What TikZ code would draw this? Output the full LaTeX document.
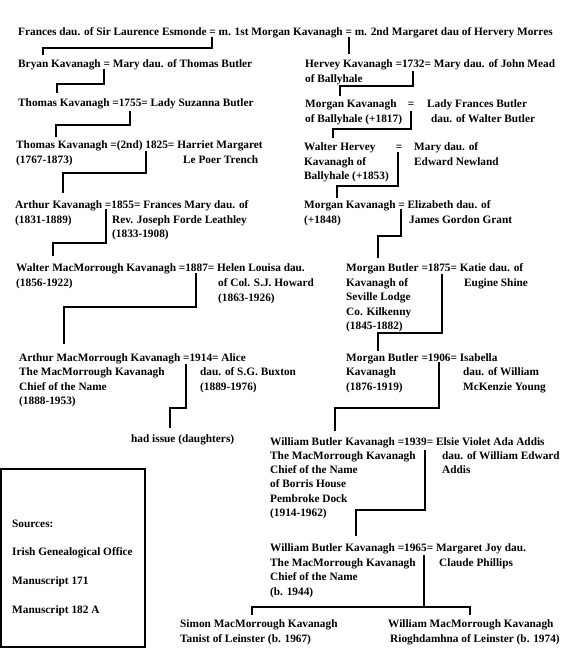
\documentclass[tikz,border=0pt]{standalone}
\usepackage{fontspec}
\setmainfont{Liberation Serif}
\newcommand\ptxt[4]{\node[txt] (#1) at (#2,#3+4) {#4};}
\begin{document}
\begin{tikzpicture}[x=1pt,y=-1pt,
  txt/.style={font=\fontsize{11.3}{14}\selectfont\bfseries,inner sep=0pt,anchor=base west},
  conn/.style={line width=2pt,line cap=rect}]
\useasboundingbox (0,0) rectangle (576,648);
% row 1
\ptxt{r1}{18}{31}{Frances dau. of Sir Laurence Esmonde = m. 1st Morgan Kavanagh = m. 2nd Margaret dau of Hervery Morres}
% row 2
\ptxt{bryan}{18}{63}{Bryan Kavanagh = Mary dau. of Thomas Butler}
\ptxt{hervey}{305}{63}{Hervey Kavanagh =1732= Mary dau. of John Mead}
\ptxt{hervey2}{305}{78}{of Ballyhale}
% row 3
\ptxt{thomas1}{18}{102}{Thomas Kavanagh =1755= Lady Suzanna Butler}
\ptxt{morgan1}{305}{103}{Morgan Kavanagh}
\node[txt,anchor=base] (morgan1eq) at (411,107) {=};
\ptxt{frances}{427}{103}{Lady Frances Butler}
\ptxt{morgan1b}{305}{118}{of Ballyhale (+1817)}
\ptxt{frances2}{431}{118}{dau. of Walter Butler}
% row 4
\ptxt{thomas2}{16}{144}{Thomas Kavanagh =(2nd) 1825= Harriet Margaret}
\ptxt{thomas2b}{16}{159}{(1767-1873)}
\ptxt{harriet2}{183}{159}{Le Poer Trench}
\ptxt{walterh}{304}{146}{Walter Hervey}
\node[txt,anchor=base] (walterheq) at (399,150) {=};
\ptxt{maryn}{414}{146}{Mary dau. of}
\ptxt{walterh2}{304}{161}{Kavanagh of}
\ptxt{maryn2}{414}{161}{Edward Newland}
\ptxt{walterh3}{304}{175}{Ballyhale (+1853)}
% row 5
\ptxt{arthur1}{15}{204}{Arthur Kavanagh =1855= Frances Mary dau. of}
\ptxt{arthur1b}{15}{219}{(1831-1889)}
\ptxt{fmary2}{112}{219}{Rev. Joseph Forde Leathley}
\ptxt{fmary3}{112}{233}{(1833-1908)}
\ptxt{morgan2}{304}{204}{Morgan Kavanagh = Elizabeth dau. of}
\ptxt{morgan2b}{304}{219}{(+1848)}
\ptxt{eliz2}{409}{219}{James Gordon Grant}
% row 6
\ptxt{walterm}{16}{267}{Walter MacMorrough Kavanagh =1887= Helen Louisa dau.}
\ptxt{walterm2}{16}{282}{(1856-1922)}
\ptxt{helen2}{218}{282}{of Col. S.J. Howard}
\ptxt{helen3}{218}{297}{(1863-1926)}
\ptxt{mbutler1}{346}{267}{Morgan Butler =1875= Katie dau. of}
\ptxt{mbutler1b}{346}{282}{Kavanagh of}
\ptxt{katie2}{464}{282}{Eugine Shine}
\ptxt{mbutler1c}{346}{296}{Seville Lodge}
\ptxt{mbutler1d}{346}{311}{Co. Kilkenny}
\ptxt{mbutler1e}{346}{325}{(1845-1882)}
% row 7
\ptxt{arthurm}{19}{357}{Arthur MacMorrough Kavanagh =1914= Alice}
\ptxt{arthurm2}{19}{371}{The MacMorrough Kavanagh}
\ptxt{alice2}{200}{371}{dau. of S.G. Buxton}
\ptxt{arthurm3}{19}{386}{Chief of the Name}
\ptxt{alice3}{200}{386}{(1889-1976)}
\ptxt{arthurm4}{19}{400}{(1888-1953)}
\ptxt{mbutler2}{346}{357}{Morgan Butler =1906= Isabella}
\ptxt{mbutler2b}{346}{371}{Kavanagh}
\ptxt{isab2}{463}{371}{dau. of William}
\ptxt{mbutler2c}{346}{386}{(1876-1919)}
\ptxt{isab3}{463}{386}{McKenzie Young}
% had issue
\ptxt{issue}{131}{438}{had issue (daughters)}
% row 8
\ptxt{wb1}{270}{441}{William Butler Kavanagh =1939= Elsie Violet Ada Addis}
\ptxt{wb1b}{270}{455}{The MacMorrough Kavanagh}
\ptxt{elsie2}{442}{455}{dau. of William Edward}
\ptxt{wb1c}{270}{469}{Chief of the Name}
\ptxt{elsie3}{442}{469}{Addis}
\ptxt{wb1d}{270}{483}{of Borris House}
\ptxt{wb1e}{270}{498}{Pembroke Dock}
\ptxt{wb1f}{270}{512}{(1914-1962)}
% row 9
\ptxt{wb2}{270}{547}{William Butler Kavanagh =1965= Margaret Joy dau.}
\ptxt{wb2b}{270}{562}{The MacMorrough Kavanagh}
\ptxt{marg2}{439}{562}{Claude Phillips}
\ptxt{wb2c}{270}{576}{Chief of the Name}
\ptxt{wb2d}{270}{591}{(b. 1944)}
% row 10
\ptxt{simon}{180}{623}{Simon MacMorrough Kavanagh}
\ptxt{simon2}{180}{638}{Tanist of Leinster (b. 1967)}
\ptxt{wmm}{388}{623}{William MacMorrough Kavanagh}
\ptxt{wmm2}{390}{638}{Rioghdamhna of Leinster (b. 1974)}
% sources
\draw[line width=2pt] (1,469) rectangle (145,647);
\ptxt{src}{12}{523}{Sources:}
\ptxt{src1}{12}{551}{Irish Genealogical Office}
\ptxt{src2}{12}{580}{Manuscript 171}
\ptxt{src3}{12}{609}{Manuscript 182 A}
% connectors
\coordinate (m1) at (212,38);  \coordinate (c1) at (43,54);
\coordinate (m2) at (349,38);  \coordinate (c2) at (349,53);
\coordinate (m3) at (104,70);  \coordinate (c3) at (57,92);
\coordinate (m4) at (413,72);  \coordinate (c4) at (340,95);
\coordinate (m5) at (130,112); \coordinate (c5) at (56,136);
\coordinate (m6) at (411,112); \coordinate (c6) at (333,137);
\coordinate (m7) at (146,152); \coordinate (c7) at (63,192);
\coordinate (m8) at (398,153); \coordinate (c8) at (337,197);
\coordinate (m9) at (106,210); \coordinate (c9) at (53,255);
\coordinate (m10) at (401,210); \coordinate (c10) at (378,257);
\coordinate (m11) at (196,274); \coordinate (c11) at (64,343);
\coordinate (m12) at (442,275); \coordinate (c12) at (378,350);
\coordinate (m13) at (186,365); \coordinate (c13) at (170,427);
\coordinate (m14) at (439,363); \coordinate (c14) at (335,430);
\coordinate (m15) at (425,451); \coordinate (c15) at (356,535);
\coordinate (m16) at (424,556); \coordinate (c16a) at (252,614); \coordinate (c16b) at (470,614);
\draw[conn] (m1) -- (212,48) -| (c1);
\draw[conn] (m2) -- (c2);
\draw[conn] (m3) -- (104,84) -| (c3);
\draw[conn] (m4) -- (413,86) -| (c4);
\draw[conn] (m5) -- (130,125) -| (c5);
\draw[conn] (m6) -- (411,129) -| (c6);
\draw[conn] (m7) -- (146,173) -| (c7);
\draw[conn] (m8) -- (398,186) -| (c8);
\draw[conn] (m9) -- (106,243) -| (c9);
\draw[conn] (m10) -- (401,236) -| (c10);
\draw[conn] (m11) -- (196,307) -| (c11);
\draw[conn] (m12) -- (442,333) -| (c12);
\draw[conn] (m13) -- (186,408) -| (c13);
\draw[conn] (m14) -- (439,408) -| (c14);
\draw[conn] (m15) -- (425,510) -| (c15);
\draw[conn] (m16) -- (424,607);
\draw[conn] (c16a) |- (424,607) -| (c16b);
\end{tikzpicture}
\end{document}
